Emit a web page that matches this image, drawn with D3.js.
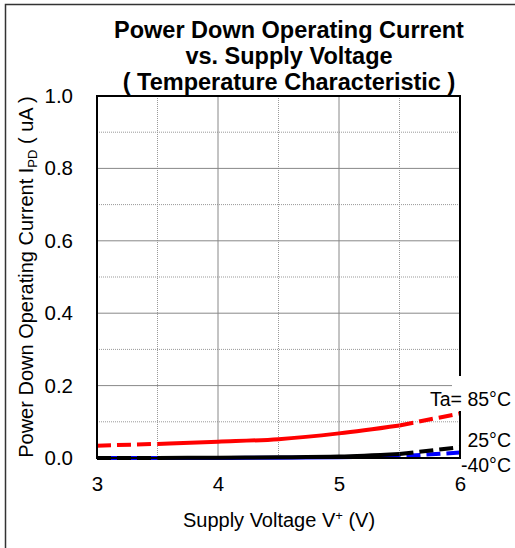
<!DOCTYPE html>
<html>
<head>
<meta charset="utf-8">
<script src="https://cdn.jsdelivr.net/npm/d3@7/dist/d3.min.js"></script>
<style>
  body { margin: 0; background: #fff; }
  svg { display: block; font-family: "Liberation Sans", Arial, sans-serif; }
</style>
</head>
<body>
<svg id="chart" width="515" height="548"></svg>
<script>
// supply voltage (V) and power down current (uA) per temperature
const voltage = [3.0, 3.5, 4.0, 4.5, 5.0, 5.5, 6.0];
const ipd85 = [0.034, 0.039, 0.045, 0.052, 0.068, 0.090, 0.123];
const ipd25 = [0.000, 0.000, 0.001, 0.002, 0.004, 0.011, 0.030];
const ipdM40 = [0.000, 0.000, 0.000, 0.001, 0.002, 0.005, 0.015];

const xTicks = [3, 4, 5, 6];
const yTicks = [0.0, 0.2, 0.4, 0.6, 0.8, 1.0];
const xMinor = [3.5, 4.5, 5.5];
const yMinor = [0.1, 0.3, 0.5, 0.7, 0.9];

const titleLines = ['Power Down Operating Current', 'vs. Supply Voltage', '( Temperature Characteristic )'];

const series = [
  { name: '-40°C', values: ipdM40, color: '#0000ff', offset: 13 },
  { name: '25°C', values: ipd25, color: '#000000', offset: 0 },
  { name: '85°C', values: ipd85, color: '#ff0000', offset: 0 }
];

const svg = d3.select('#chart');

// plot box
const plotL = 97, plotR = 460, plotT = 96, plotB = 458;

const x = d3.scaleLinear().domain([3, 6]).range([plotL, plotR]);
const y = d3.scaleLinear().domain([0, 1]).range([plotB, plotT]);

// outer frame (only top and left edges show)
svg.append('path')
  .attr('d', 'M5.5,548V4.5H515')
  .attr('fill', 'none')
  .attr('stroke', '#333')
  .attr('stroke-width', 1.5);

// title
svg.append('text')
  .attr('text-anchor', 'middle')
  .attr('font-weight', 'bold')
  .attr('font-size', 23.5)
  .selectAll('tspan')
  .data(titleLines)
  .enter()
  .append('tspan')
  .attr('x', 289)
  .attr('y', (d, i) => 38 + i * 26)
  .text(d => d);

// minor grid (dotted)
const grid = svg.append('g');
grid.selectAll('.vminor')
  .data(xMinor)
  .enter()
  .append('line')
  .attr('x1', d => x(d)).attr('x2', d => x(d))
  .attr('y1', plotT).attr('y2', plotB)
  .attr('stroke', '#999')
  .attr('stroke-dasharray', '1,1');
grid.selectAll('.hminor')
  .data(yMinor)
  .enter()
  .append('line')
  .attr('x1', plotL).attr('x2', plotR)
  .attr('y1', d => y(d)).attr('y2', d => y(d))
  .attr('stroke', '#999')
  .attr('stroke-dasharray', '1,1');

// major grid
grid.selectAll('.vmajor')
  .data(xTicks.slice(1, -1))
  .enter()
  .append('line')
  .attr('x1', d => x(d)).attr('x2', d => x(d))
  .attr('y1', plotT).attr('y2', plotB)
  .attr('stroke', '#888');
grid.selectAll('.hmajor')
  .data(yTicks.slice(1, -1))
  .enter()
  .append('line')
  .attr('x1', plotL).attr('x2', plotR)
  .attr('y1', d => y(d)).attr('y2', d => y(d))
  .attr('stroke', '#888');

// curves: dashed at the ends (3.0-3.5, 5.5-6.0), solid in the middle
const line = d3.line()
  .x(d => x(d[0]))
  .y(d => y(d[1]))
  .curve(d3.curveMonotoneX);

series.forEach(s => {
  const pts = voltage.map((v, i) => [v, s.values[i]]);
  const pieces = [
    { pts: pts.slice(0, 2), dash: true },
    { pts: pts.slice(1, 6), dash: false },
    { pts: pts.slice(5), dash: true }
  ];
  pieces.forEach(p => {
    svg.append('path')
      .attr('d', line(p.pts))
      .attr('fill', 'none')
      .attr('stroke', s.color)
      .attr('stroke-width', 4)
      .attr('stroke-dasharray', p.dash ? '14,6' : null)
      .attr('stroke-dashoffset', p.dash ? s.offset : null);
  });
});

// plot border
svg.append('rect')
  .attr('x', plotL).attr('y', plotT)
  .attr('width', plotR - plotL).attr('height', plotB - plotT)
  .attr('fill', 'none')
  .attr('stroke', '#000')
  .attr('stroke-width', 2);

// axes (labels only)
const xAxis = svg.append('g')
  .attr('transform', 'translate(0,' + plotB + ')')
  .call(d3.axisBottom(x).tickValues(xTicks).tickSize(0).tickPadding(18).tickFormat(d3.format('d')));
const yAxis = svg.append('g')
  .attr('transform', 'translate(' + plotL + ',0)')
  .call(d3.axisLeft(y).tickValues(yTicks).tickSize(0).tickPadding(24).tickFormat(d3.format('.1f')));
[xAxis, yAxis].forEach(a => {
  a.select('.domain').remove();
  a.selectAll('text')
    .attr('font-size', 20.5)
    .attr('font-family', '"Liberation Sans", Arial, sans-serif')
    .attr('fill', '#000');
});

// axis titles
const xt = svg.append('text')
  .attr('x', 279)
  .attr('y', 527)
  .attr('text-anchor', 'middle')
  .attr('font-size', 20);
xt.append('tspan').text('Supply Voltage V');
xt.append('tspan').attr('font-size', 13).attr('dy', -7).text('+');
xt.append('tspan').attr('dy', 7).text(' (V)');

const yt = svg.append('text')
  .attr('transform', 'translate(33,' + (plotT + plotB) / 2 + ') rotate(-90)')
  .attr('text-anchor', 'middle')
  .attr('font-size', 20);
yt.append('tspan').text('Power Down Operating Current I');
yt.append('tspan').attr('font-size', 13).attr('dy', 4).text('PD');
yt.append('tspan').attr('dy', -4).text(' ( uA )');

// series labels with white backgrounds
const labels = [
  { text: 'Ta= 85°C', x: 511, y: 406, box: [452, 376, 63, 35] },
  { text: '25°C', x: 511, y: 447, box: null },
  { text: '-40°C', x: 511, y: 472, box: null }
];
labels.forEach(l => {
  if (l.box) {
    svg.append('rect')
      .attr('x', l.box[0]).attr('y', l.box[1])
      .attr('width', l.box[2]).attr('height', l.box[3])
      .attr('fill', '#fff');
  }
  svg.append('text')
    .attr('x', l.x)
    .attr('y', l.y)
    .attr('text-anchor', 'end')
    .attr('font-size', 19.5)
    .text(l.text);
});
</script>
</body>
</html>
